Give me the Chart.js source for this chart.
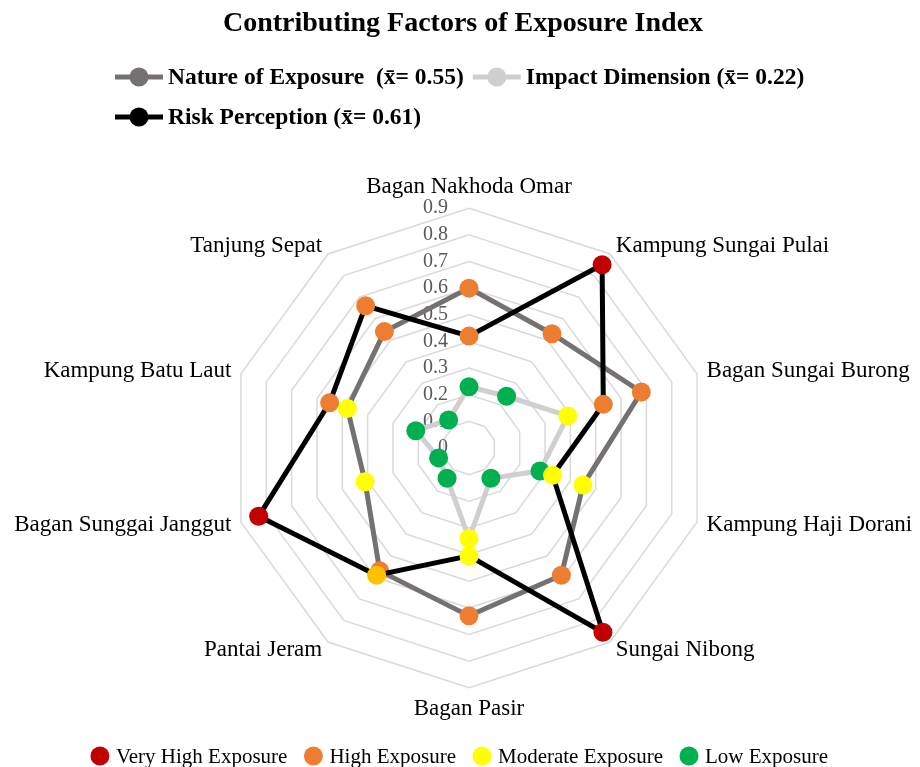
<!DOCTYPE html>
<html>
<head>
<meta charset="utf-8">
<script src="https://cdn.jsdelivr.net/npm/chart.js@4.4.1/dist/chart.umd.min.js"></script>
<style>
	html, body { margin: 0; padding: 0; background: #ffffff; }
</style>
</head>
<body>
<canvas id="grafica-exposicion" width="920" height="767"></canvas>
<script>
var categorias = ["Bagan Nakhoda Omar", "Kampung Sungai Pulai", "Bagan Sungai Burong", "Kampung Haji Dorani", "Sungai Nibong",
	"Bagan Pasir", "Pantai Jeram", "Bagan Sunggai Janggut", "Kampung Batu Laut", "Tanjung Sepat"];

var natureValues = [0.60, 0.53, 0.68, 0.45, 0.59, 0.63, 0.57, 0.41, 0.48, 0.54];
var impactValues = [0.23, 0.24, 0.39, 0.28, 0.14, 0.34, 0.14, 0.12, 0.21, 0.13];
var riskValues = [0.42, 0.85, 0.53, 0.33, 0.855, 0.405, 0.59, 0.83, 0.55, 0.66];

// exposure level of every point (gives the marker colour)
var natureLevels = ["High", "High", "High", "Moderate", "High", "High", "High", "Moderate", "Moderate", "High"];
var impactLevels = ["Low", "Low", "Moderate", "Low", "Low", "Moderate", "Low", "Low", "Low", "Low"];
var riskLevels = ["High", "VeryHigh", "High", "Moderate", "VeryHigh", "Moderate", "HighAlt", "VeryHigh", "High", "High"];

var seriesLabels = ["Nature of Exposure  (x\u0304= 0.55)", "Impact Dimension (x\u0304= 0.22)", "Risk Perception (x\u0304= 0.61)"];

var levelKeys = ["VeryHigh", "High", "Moderate", "Low"];
var levelNames = ["Very High Exposure", "High Exposure", "Moderate Exposure", "Low Exposure"];

var tickValues = [0, 0.1, 0.2, 0.3, 0.4, 0.5, 0.6, 0.7, 0.8, 0.9];
var tickLabels = ["0", "0.1", "0.2", "0.3", "0.4", "0.5", "0.6", "0.7", "0.8", "0.9"];

var SERIF = "'Liberation Serif', 'Times New Roman', serif";

function colorNivel(nivel)
{
	var colores = {
		VeryHigh: "#c00000",
		High: "#ed7d31",
		HighAlt: "#ffc000",
		Moderate: "#ffff00",
		Low: "#00b050"
	};
	return colores[nivel];
}

function creaSerie(label, valores, niveles, colorLinea, orden)
{
	var colores = niveles.map(colorNivel);
	return {
		label: label,
		data: valores,
		borderColor: colorLinea,
		backgroundColor: "rgba(0,0,0,0)",
		borderWidth: 5,
		fill: false,
		pointRadius: 9.5,
		pointBorderWidth: 0,
		pointBackgroundColor: colores,
		pointBorderColor: colores,
		order: orden
	};
}

// tick labels to the left of the vertical axis, right aligned
var etiquetasEje = {
	id: "etiquetasEje",
	beforeDatasetsDraw: function (chart) {
		var escala = chart.scales.r;
		var ctx = chart.ctx;
		ctx.save();
		ctx.font = "20px " + SERIF;
		ctx.fillStyle = "#595959";
		ctx.textAlign = "right";
		ctx.textBaseline = "middle";
		for (var i = 0; i < tickValues.length; i++) {
			var d = escala.getDistanceFromCenterForValue(tickValues[i]);
			ctx.fillText(tickLabels[i], escala.xCenter - 21, escala.yCenter - d);
		}
		ctx.restore();
	}
};

// category labels: vertically centred on the spoke direction (Excel style)
var etiquetasCategorias = {
	id: "etiquetasCategorias",
	afterDatasetsDraw: function (chart) {
		var escala = chart.scales.r;
		var ctx = chart.ctx;
		ctx.save();
		ctx.font = "23px " + SERIF;
		ctx.fillStyle = "#000000";
		for (var i = 0; i < categorias.length; i++) {
			var p = escala.getPointPosition(i, escala.drawingArea + 10);
			var ang = 360 * i / categorias.length;
			if (ang === 0) {
				ctx.textAlign = "center";
				ctx.textBaseline = "bottom";
			} else if (ang === 180) {
				ctx.textAlign = "center";
				ctx.textBaseline = "top";
			} else {
				ctx.textAlign = ang < 180 ? "left" : "right";
				ctx.textBaseline = "middle";
			}
			ctx.fillText(categorias[i], p.x, p.y);
		}
		ctx.restore();
	}
};

// series legend (line + marker) under the title, and exposure legend at the bottom
var leyendas = {
	id: "leyendas",
	afterDraw: function (chart) {
		var ctx = chart.ctx;
		ctx.save();

		ctx.font = "bold 23.5px " + SERIF;
		ctx.textBaseline = "middle";
		ctx.textAlign = "left";
		var x = 115, y = 77;
		chart.data.datasets.forEach(function (ds) {
			var ancho = 53 + ctx.measureText(ds.label).width + 9;
			if (x > 115 && x + ancho > chart.width) {
				x = 115;
				y += 40;
			}
			ctx.strokeStyle = ds.borderColor;
			ctx.lineWidth = 5;
			ctx.beginPath();
			ctx.moveTo(x, y);
			ctx.lineTo(x + 48, y);
			ctx.stroke();
			ctx.fillStyle = ds.borderColor;
			ctx.beginPath();
			ctx.arc(x + 24, y, 9.5, 0, Math.PI * 2);
			ctx.fill();
			ctx.fillStyle = "#000000";
			ctx.fillText(ds.label, x + 53, y + 1);
			x += ancho;
		});

		ctx.font = "21px " + SERIF;
		var anchos = levelNames.map(function (t) { return ctx.measureText(t).width; });
		var total = 0;
		for (var i = 0; i < anchos.length; i++) total += 16 + anchos[i] + (i < anchos.length - 1 ? 26 : 0);
		var cx = (chart.width - total) / 2 + 4;
		var yb = 756;
		for (var j = 0; j < levelNames.length; j++) {
			ctx.fillStyle = colorNivel(levelKeys[j]);
			ctx.beginPath();
			ctx.arc(cx, yb, 9.5, 0, Math.PI * 2);
			ctx.fill();
			ctx.fillStyle = "#000000";
			ctx.fillText(levelNames[j], cx + 16, yb + 1);
			cx += 16 + anchos[j] + 26;
		}
		ctx.restore();
	}
};

var canvas = document.getElementById("grafica-exposicion");

new Chart(canvas, {
	type: "radar",
	data: {
		labels: categorias,
		datasets: [
			creaSerie(seriesLabels[0], natureValues, natureLevels, "#767171", 1),
			creaSerie(seriesLabels[1], impactValues, impactLevels, "#d0cece", 2),
			creaSerie(seriesLabels[2], riskValues, riskLevels, "#000000", 0)
		]
	},
	options: {
		responsive: false,
		animation: false,
		devicePixelRatio: 1,
		events: [],
		layout: { padding: { left: 6, bottom: 40 } },
		elements: { line: { tension: 0 } },
		plugins: {
			legend: { display: false },
			tooltip: { enabled: false },
			title: {
				display: true,
				text: "Contributing Factors of Exposure Index",
				color: "#000000",
				font: { family: SERIF, size: 28, weight: "bold" },
				padding: { top: 7, bottom: 130 }
			}
		},
		scales: {
			r: {
				min: 0,
				max: 0.9,
				ticks: { stepSize: 0.1, display: false },
				grid: { color: "#d9d9d9", lineWidth: 1.5 },
				angleLines: { display: false },
				// the library keeps room for the labels; they are painted by etiquetasCategorias
				pointLabels: {
					color: "rgba(0,0,0,0)",
					font: { family: SERIF, size: 23 },
					padding: 10
				}
			}
		}
	},
	plugins: [etiquetasEje, etiquetasCategorias, leyendas]
});
</script>
</body>
</html>
